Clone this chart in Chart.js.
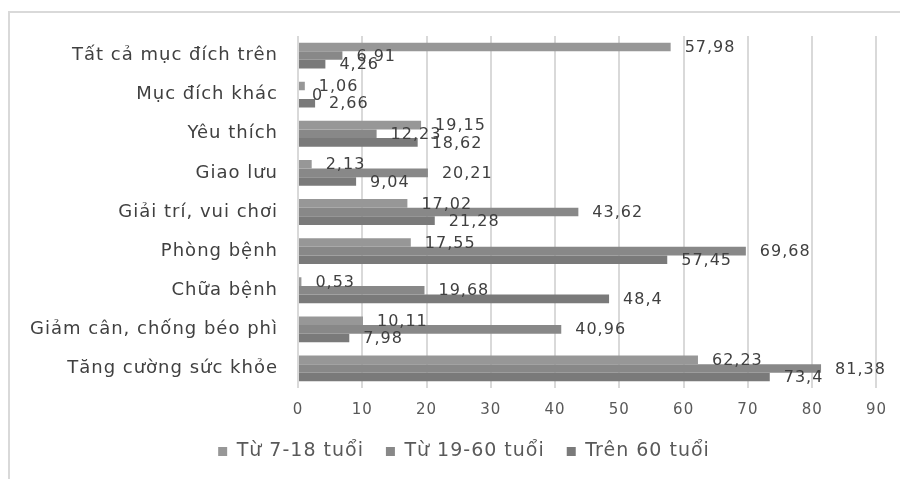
<!DOCTYPE html>
<html>
<head>
<meta charset="utf-8">
<script src="https://cdn.jsdelivr.net/npm/chart.js@4"></script>
<style>
  html, body { margin: 0; padding: 0; background: #fff; }
  #wrap { position: relative; width: 900px; height: 479px; }
  #frame { position: absolute; left: 8px; top: 11px; right: 0; bottom: 0;
           border-top: 2px solid #d9d9d9; border-left: 2px solid #d9d9d9; }
  canvas { position: absolute; left: 0; top: 0; }
</style>
</head>
<body>
<div id="wrap">
  <div id="frame"></div>
  <canvas id="chart" width="900" height="479"></canvas>
</div>
<script>
// ─── DATA ────────────────────────────────────────────────────────────────────
const categories = [
  'Tất cả mục đích trên',
  'Mục đích khác',
  'Yêu thích',
  'Giao lưu',
  'Giải trí, vui chơi',
  'Phòng bệnh',
  'Chữa bệnh',
  'Giảm cân, chống béo phì',
  'Tăng cường sức khỏe'
];
const seriesNames = ['Từ 7-18 tuổi', 'Từ 19-60 tuổi', 'Trên 60 tuổi'];
const age7to18  = [57.98, 1.06, 19.15, 2.13, 17.02, 17.55, 0.53, 10.11, 62.23];
const age19to60 = [6.91, 0, 12.23, 20.21, 43.62, 69.68, 19.68, 40.96, 81.38];
const over60    = [4.26, 2.66, 18.62, 9.04, 21.28, 57.45, 48.4, 7.98, 73.4];
const xTicks    = [0, 10, 20, 30, 40, 50, 60, 70, 80, 90];

const colors = ['#979797', '#888888', '#7a7a7a'];
const textCol = '#404040';
const font = 'DejaVu Sans';

// the source picture is a bit stretched sideways, so widen all text a little
const spacing = {
  id: 'spacing',
  beforeUpdate(chart) { chart.ctx.letterSpacing = '1px'; },
  beforeDraw(chart) { chart.ctx.letterSpacing = '1px'; },
  // legend sits a bit right of the canvas centre in the original
  afterLayout(chart) { chart.legend.left += 15; chart.legend.right += 15; }
};

// value labels at the end of each bar, comma as decimal mark
const valueLabels = {
  id: 'valueLabels',
  afterDatasetsDraw(chart) {
    const ctx = chart.ctx;
    ctx.save();
    ctx.font = '16px "' + font + '"';
    ctx.fillStyle = textCol;
    ctx.textAlign = 'left';
    ctx.textBaseline = 'middle';
    chart.data.datasets.forEach((ds, i) => {
      chart.getDatasetMeta(i).data.forEach((bar, j) => {
        const txt = String(ds.data[j]).replace('.', ',');
        ctx.fillText(txt, bar.x + 14, bar.y + 1);
      });
    });
    ctx.restore();
  }
};

new Chart(document.getElementById('chart'), {
  type: 'bar',
  data: {
    labels: categories,
    datasets: [age7to18, age19to60, over60].map((d, i) => ({
      label: seriesNames[i],
      data: d,
      backgroundColor: colors[i],
      borderWidth: 0,
      barPercentage: 1,
      categoryPercentage: 0.66
    }))
  },
  options: {
    indexAxis: 'y',
    responsive: false,
    animation: false,
    layout: { padding: { top: 36, left: 20, right: 22, bottom: 8 } },
    plugins: {
      legend: {
        position: 'bottom',
        labels: {
          boxWidth: 9, boxHeight: 9, padding: 22,
          color: '#595959',
          font: { family: font, size: 19 }
        }
      },
      tooltip: { enabled: false }
    },
    scales: {
      x: {
        min: 0, max: 90,
        afterBuildTicks: (axis) => { axis.ticks = xTicks.map(v => ({ value: v })); },
        grid: { color: '#d9d9d9', lineWidth: 2, drawTicks: false },
        border: { display: false },
        ticks: { color: '#595959', padding: 13, font: { family: font, size: 15 } },
        afterFit: (axis) => { axis.height = 32; }
      },
      y: {
        grid: { display: false, drawTicks: false },
        border: { display: false },
        ticks: { color: textCol, padding: 20, font: { family: font, size: 18 } },
        afterFit: (axis) => { axis.width = 278; }
      }
    }
  },
  plugins: [spacing, valueLabels]
});
</script>
</body>
</html>
